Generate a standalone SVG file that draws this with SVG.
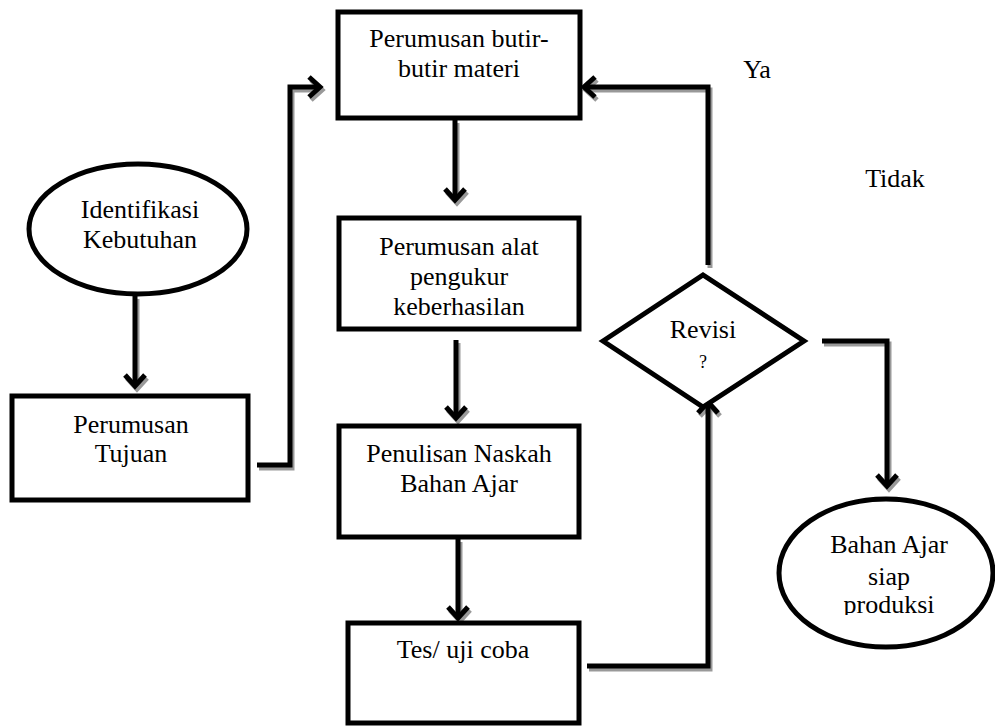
<svg xmlns="http://www.w3.org/2000/svg" width="995" height="726" viewBox="0 0 995 726">
  <style>
    .node { fill: #fff; stroke: #000; stroke-width: 5; }
    .t { font-family: 'Liberation Serif', 'Times New Roman', serif; font-size: 26px; fill: #000; text-anchor: middle; }
    .conn { fill: none; stroke: #000; stroke-width: 5; }
    .shadow { fill: none; stroke: #999; stroke-width: 5; }
  </style>
  <defs>
    <marker id="arr" markerUnits="userSpaceOnUse" viewBox="-14 -12 18 24" markerWidth="18" markerHeight="24" refX="0" refY="0" orient="auto">
      <path d="M-11,-10 L0,0 L-11,10" fill="none" stroke="#000" stroke-width="5" stroke-linejoin="miter"/>
    </marker>
    <marker id="arrS" markerUnits="userSpaceOnUse" viewBox="-14 -12 18 24" markerWidth="18" markerHeight="24" refX="0" refY="0" orient="auto">
      <path d="M-11,-10 L0,0 L-11,10" fill="none" stroke="#999" stroke-width="5" stroke-linejoin="miter"/>
    </marker>
    <clipPath id="clipProd">
      <rect x="770" y="490" width="225" height="125"/>
    </clipPath>
  </defs>

  <g id="connectors-shadow" transform="translate(2,3)">
    <path class="shadow" d="M135,296 L135,386" marker-end="url(#arrS)"/>
    <path class="shadow" d="M257,465 L290,465 L290,87 L320,87" marker-end="url(#arrS)"/>
    <path class="shadow" d="M455,120 L455,200" marker-end="url(#arrS)"/>
    <path class="shadow" d="M456,340 L456,418" marker-end="url(#arrS)"/>
    <path class="shadow" d="M458,539 L458,618" marker-end="url(#arrS)"/>
    <path class="shadow" d="M587,666 L708,666 L708,402" marker-end="url(#arrS)"/>
    <path class="shadow" d="M708,265 L708,87 L584,87" marker-end="url(#arrS)"/>
    <path class="shadow" d="M822,341 L887,341 L887,486" marker-end="url(#arrS)"/>
  </g>
  <g id="connectors">
    <path class="conn" d="M135,296 L135,386" marker-end="url(#arr)"/>
    <path class="conn" d="M257,465 L290,465 L290,87 L320,87" marker-end="url(#arr)"/>
    <path class="conn" d="M455,120 L455,200" marker-end="url(#arr)"/>
    <path class="conn" d="M456,340 L456,418" marker-end="url(#arr)"/>
    <path class="conn" d="M458,539 L458,618" marker-end="url(#arr)"/>
    <path class="conn" d="M587,666 L708,666 L708,402" marker-end="url(#arr)"/>
    <path class="conn" d="M708,265 L708,87 L584,87" marker-end="url(#arr)"/>
    <path class="conn" d="M822,341 L887,341 L887,486" marker-end="url(#arr)"/>
  </g>

  <g id="identifikasi">
    <ellipse class="node" cx="138" cy="229" rx="109" ry="65"/>
    <text class="t" x="140" y="218">Identifikasi</text>
    <text class="t" x="140" y="248">Kebutuhan</text>
  </g>
  <g id="tujuan">
    <rect class="node" x="12" y="396" width="236" height="104"/>
    <text class="t" x="131" y="433">Perumusan</text>
    <text class="t" x="131" y="462">Tujuan</text>
  </g>
  <g id="materi">
    <rect class="node" x="338" y="12" width="242" height="106"/>
    <text class="t" x="459" y="47">Perumusan butir-</text>
    <text class="t" x="459" y="77">butir materi</text>
  </g>
  <g id="alat">
    <rect class="node" x="339" y="218" width="240" height="111"/>
    <text class="t" x="459" y="255">Perumusan alat</text>
    <text class="t" x="459" y="285">pengukur</text>
    <text class="t" x="459" y="315">keberhasilan</text>
  </g>
  <g id="naskah">
    <rect class="node" x="339" y="426" width="240" height="111"/>
    <text class="t" x="459" y="462">Penulisan Naskah</text>
    <text class="t" x="459" y="492">Bahan Ajar</text>
  </g>
  <g id="uji">
    <rect class="node" x="348" y="623" width="231" height="100"/>
    <text class="t" x="463" y="658">Tes/ uji coba</text>
  </g>
  <g id="revisi">
    <polygon class="node" points="603,341 703,275 804,341 703,407"/>
    <text class="t" x="703" y="338">Revisi</text>
    <text class="t" x="703" y="368" style="font-size:18px">?</text>
  </g>
  <g id="siap">
    <ellipse class="node" cx="886" cy="573" rx="107" ry="74"/>
    <text class="t" x="889" y="553">Bahan Ajar</text>
    <text class="t" x="889" y="585">siap</text>
    <text class="t" x="889" y="613" clip-path="url(#clipProd)">produksi</text>
  </g>
  <g id="labels">
    <text class="t" x="757" y="78">Ya</text>
    <text class="t" x="895" y="187">Tidak</text>
  </g>
</svg>
